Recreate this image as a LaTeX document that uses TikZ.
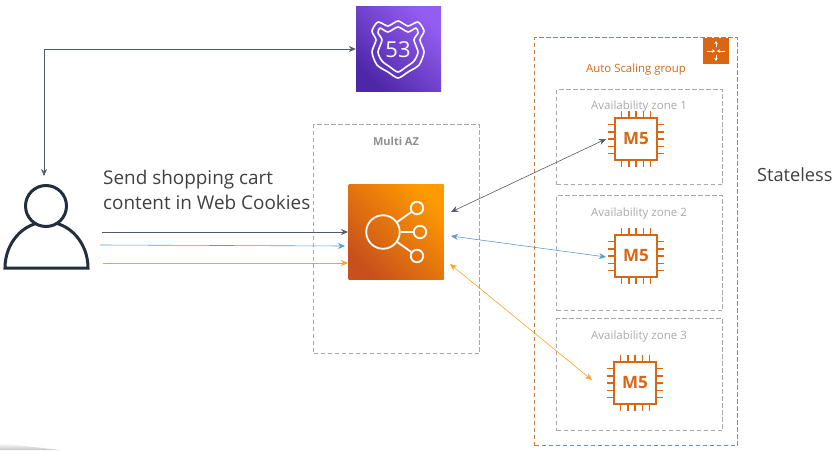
\documentclass[tikz,border=0pt]{standalone}
\usepackage{fontspec}
\setmainfont{Open Sans}
\usetikzlibrary{arrows.meta}
\definecolor{awsorange}{HTML}{D86613}
\definecolor{asgedge}{HTML}{C77A3C}
\definecolor{azgray}{HTML}{A9A9A9}
\definecolor{inkdark}{HTML}{232F3E}
\definecolor{linkdark}{HTML}{545B64}
\definecolor{linkblue}{HTML}{5A9BD5}
\definecolor{linkamber}{HTML}{F5A623}
\definecolor{dnslow}{HTML}{4D27A8}
\definecolor{dnshigh}{HTML}{945DF2}
\definecolor{elblow}{HTML}{C8511B}
\definecolor{elbhigh}{HTML}{FF9900}
\newcommand{\chippins}[1]{
  \foreach \d in {-14.4,-7.2,0,7.2,14.4} {
    \draw[pin] ([xshift=\d pt]#1.north) -- ++(0,-6);
    \draw[pin] ([xshift=\d pt]#1.south) -- ++(0,6);
    \draw[pin] ([yshift=\d pt]#1.west) -- ++(-6,0);
    \draw[pin] ([yshift=\d pt]#1.east) -- ++(6,0);
  }
}
\begin{document}
\begin{tikzpicture}[
    x=1pt, y=-1pt,
    azbox/.style = {draw=azgray, line width=1.1pt, dash pattern=on 4.5pt off 2.5pt,
      inner sep=0pt, anchor=north west},
    azlabel/.style = {text=azgray, font=\fontsize{11.5}{14}\selectfont},
    chip/.style = {draw=awsorange, line width=2pt, minimum size=42pt, inner sep=0pt,
      text=awsorange, font=\fontsize{17}{20}\selectfont\bfseries},
    pin/.style = {draw=awsorange, line width=1.4pt},
    link/.style = {line width=0.6pt, -{Stealth[length=7pt,width=6pt]}},
    both/.style = {line width=0.6pt, {Stealth[length=7pt,width=6pt]}-{Stealth[length=7pt,width=6pt]}},
    bigtext/.style = {text=black!75, font=\fontsize{18.9}{25}\selectfont, align=left, anchor=north west, inner sep=0pt}
  ]
  \useasboundingbox (0,0) rectangle (833,450);
  \shade[bottom color=black!22, top color=white, draw=none] (0,443) -- (60,450) -- (0,450) -- cycle;

  % groups
  \node[azbox, minimum width=166pt, minimum height=229pt] (multiaz) at (313,124) {};
  \node[text=azgray!85!black, font=\fontsize{11}{13}\selectfont\bfseries] (multilabel) at (396,141) {Multi AZ};
  \node[azbox, draw=asgedge, minimum width=203pt, minimum height=408pt] (asg) at (534,37) {};
  \node[text=awsorange, font=\fontsize{11.4}{14}\selectfont] (asglabel) at (636,70) {Auto Scaling group};
  \node[azbox, minimum width=166pt, minimum height=95pt] (zone1) at (556,89) {};
  \node[azbox, minimum width=166pt, minimum height=115pt] (zone2) at (556,195) {};
  \node[azbox, minimum width=166pt, minimum height=112pt] (zone3) at (556,318) {};
  \node[azlabel] (zone1label) at (639,107) {Availability zone 1};
  \node[azlabel] (zone2label) at (639,214) {Availability zone 2};
  \node[azlabel] (zone3label) at (639,337) {Availability zone 3};

  % scaling icon
  \node[fill=awsorange, minimum size=26pt, inner sep=0pt] (asgicon) at (716,51) {};
  \foreach \fx/\fy/\tx/\ty in {0/-4/0/-10, 0/4/0/10, -9/0/-1/0, 9/0/1/0} {
    \draw[white, line width=0.7pt, -{Stealth[length=3pt,width=3.5pt]}]
      ([xshift=\fx pt,yshift=-\fy pt]asgicon.center) -- ([xshift=\tx pt,yshift=-\ty pt]asgicon.center);
  }

  % route 53
  \node[minimum size=85pt, inner sep=0pt, bottom color=dnslow, top color=dnshigh,
    shading angle=-45] (dns) at (398.5,49) {};
  \draw[white, line width=1.6pt, line join=round] plot[smooth cycle, tension=0.45] coordinates {
    (372,31) (378,22) (388,26) (398,21) (408,26) (418,22) (424,31) (420,40) (424,52)
    (419,65) (408,72) (398,78) (388,72) (377,65) (372,52) (376,40)};
  \draw[white, line width=1.6pt, line join=round] plot[smooth cycle, tension=0.45] coordinates {
    (378,33) (380,28) (388,32) (398,27) (408,32) (416,28) (418,33) (414,40) (418,52)
    (414,61) (406,67) (398,72) (390,67) (382,61) (378,52) (382,40)};
  \node[text=white, font=\fontsize{22}{24}\selectfont, inner sep=0pt] (dnstext) at (398,50) {53};

  % load balancer
  \node[minimum size=95pt, inner sep=0pt, bottom color=elblow, top color=elbhigh,
    shading angle=-45] (elb) at (396,231.5) {};
  \node[circle, draw=white, line width=1.8pt, minimum size=33.5pt, inner sep=0pt] (hub) at (383,232) {};
  \foreach \n/\px/\py in {a/417/208, b/420/232, c/417/256} {
    \node[circle, draw=white, line width=1.8pt, minimum size=12.5pt, inner sep=0pt] (\n) at (\px,\py) {};
    \draw[white, line width=1.8pt] (hub) -- (\n);
  }

  % instances
  \node[chip] (m1) at (636,139) {M5};
  \node[chip] (m2) at (636,256) {M5};
  \node[chip] (m3) at (635,383) {M5};
  \chippins{m1}
  \chippins{m2}
  \chippins{m3}

  % user
  \draw[inkdark, line width=3pt] (5,268) arc[start angle=180, end angle=360, x radius=41.5, y radius=46] -- cycle;
  \node[circle, draw=inkdark, fill=white, line width=3pt, minimum size=41pt, inner sep=0pt] (user) at (46,206) {};

  % texts
  \node[bigtext] (cookies) at (103,169.5) {Send shopping cart\\content in Web Cookies};
  \node[bigtext, font=\fontsize{18.2}{25}\selectfont] (stateless) at (757,167.5) {Stateless};

  % connectors
  \coordinate (userport) at (44,176);
  \coordinate (bend) at (44,49);
  \coordinate (s1) at (102,232);
  \coordinate (s2) at (100,245);
  \coordinate (s3) at (103,263);
  \coordinate (t1) at (348,232);
  \coordinate (t2) at (345,246);
  \coordinate (t3) at (348,263);
  \coordinate (e1) at (451,212);
  \coordinate (e2) at (451,236);
  \coordinate (e3) at (450,264);
  \coordinate (p1) at (606,139);
  \coordinate (p2) at (606,257);
  \coordinate (p3) at (592,380);
  \draw[both, linkdark] (userport) -- (bend) -- (dns.west);
  \draw[link, linkdark] (s1) -- (t1);
  \draw[link, linkblue] (s2) -- (t2);
  \draw[link, linkamber] (s3) -- (t3);
  \draw[both, linkdark] (e1) -- (p1);
  \draw[both, linkblue] (e2) -- (p2);
  \draw[both, linkamber] (e3) -- (p3);
\end{tikzpicture}
\end{document}
